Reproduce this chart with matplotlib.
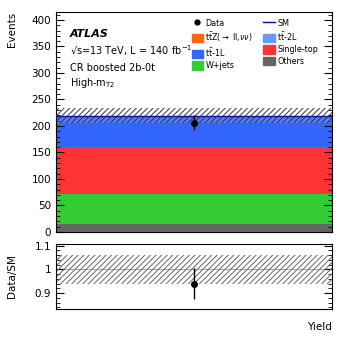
import matplotlib
matplotlib.use("Agg")
import matplotlib.pyplot as plt
import numpy as np
from matplotlib.patches import Patch
from matplotlib.lines import Line2D
from matplotlib.ticker import MultipleLocator, FixedLocator

plt.rcParams['font.family'] = ['DejaVu Sans']
plt.rcParams['hatch.linewidth'] = 0.7

# ---- data ----
bin_edges = [0.0, 1.0]
bin_center = 0.5
processes = ["Others", "W+jets", "Single-top", "ttZ", "tt2L", "tt1L"]
proc_values = [16.0, 55.5, 89.3, 0.1, 0.1, 58.5]
proc_colors = ["#666666", "#33cc33", "#ff3333", "#ff6600", "#6699ff", "#3366ff"]
sm_unc = 13.5
data_value = 206.0
data_err = np.sqrt(data_value)

fig = plt.figure(figsize=(3.49, 3.40), dpi=100)
W, H = 349, 340
ax = fig.add_axes([56/W, 1-232/H, (332-56)/W, (232-12)/H])
rax = fig.add_axes([56/W, 1-309/H, (332-56)/W, (309-244)/H])

# stack
bottom = 0.0
for name, v, c in zip(processes, proc_values, proc_colors):
    ax.bar(bin_center, v, width=1.0, bottom=bottom, color=c, linewidth=0)
    bottom += v
sm_total = bottom
ax.hlines(sm_total, 0, 1, color="#0000cc", lw=1.0, zorder=3)
ax.fill_between(bin_edges, sm_total - sm_unc, sm_total, facecolor="#88aaff", alpha=0.35,
                linewidth=0, zorder=2.5)
ax.fill_between(bin_edges, sm_total - sm_unc, sm_total + sm_unc, facecolor="none",
                edgecolor="#333333", hatch="//////", linewidth=0, zorder=3)
ax.errorbar([bin_center], [data_value], yerr=[data_err], fmt="o", color="black",
            ms=4, lw=1.0, capsize=0, zorder=5)

ax.set_xlim(0, 1)
ax.set_ylim(0, 415)
ax.yaxis.set_major_locator(MultipleLocator(50))
ax.yaxis.set_minor_locator(MultipleLocator(10))
ax.tick_params(axis="y", which="both", direction="in", left=True, right=True, labelsize=7.5)
ax.tick_params(axis="y", which="major", length=6)
ax.tick_params(axis="y", which="minor", length=3)
ax.set_xticks([])
ax.set_ylabel("Events", fontsize=7.5, loc="top")
ax.yaxis.set_label_coords(-0.14, 1.0)

# texts
ax.text(0.05, 0.90, "ATLAS", transform=ax.transAxes, fontsize=8, fontweight="bold",
        fontstyle="italic", va="center")
ax.text(0.05, 0.826, "\u221as=13 TeV, L = 140 fb$^{-1}$", transform=ax.transAxes,
        fontsize=7, va="center")
ax.text(0.05, 0.745, "CR boosted 2b-0t", transform=ax.transAxes, fontsize=7, va="center")
ax.text(0.05, 0.677, r"High-m$_{\mathrm{T2}}$", transform=ax.transAxes, fontsize=7, va="center")

# legend
handles = [
    Line2D([], [], marker="o", color="black", ls="none", ms=3.5),
    Patch(color="#ff6600"), Patch(color="#3366ff"), Patch(color="#33cc33"),
    Line2D([], [], color="#0000cc", lw=1.0),
    Patch(color="#6699ff"), Patch(color="#ff3333"), Patch(color="#666666"),
]
labels = ["Data", r"t$\bar{\mathrm{t}}$Z($\rightarrow$ ll,$\nu\nu$)", r"t$\bar{\mathrm{t}}$-1L", "W+jets",
          "SM", r"t$\bar{\mathrm{t}}$-2L", "Single-top", "Others"]
leg = ax.legend(handles, labels, ncol=2, loc="upper left", bbox_to_anchor=(0.48, 0.985),
                frameon=False, fontsize=5.8, handlelength=1.4, handleheight=1.2,
                handletextpad=0.3, columnspacing=1.3, labelspacing=0.3, borderaxespad=0)

# ratio
ratio = data_value / sm_total
ratio_err = data_err / sm_total
rel_unc = sm_unc / sm_total
rax.fill_between(bin_edges, 1 - rel_unc, 1 + rel_unc, facecolor="none",
                 edgecolor="#666666", hatch="//////", linewidth=0, zorder=2)
rax.axhline(1.0, color="#aaaaaa", lw=0.8, zorder=1)
rax.errorbar([bin_center], [ratio], yerr=[ratio_err], fmt="o", color="black",
             ms=4, lw=1.0, capsize=0, zorder=5)
rax.set_xlim(0, 1)
rax.set_ylim(0.833, 1.107)
rax.yaxis.set_major_locator(FixedLocator([0.9, 1.0, 1.1]))
rax.yaxis.set_minor_locator(MultipleLocator(0.02))
rax.set_yticklabels(["0.9", "1", "1.1"])
rax.tick_params(axis="y", which="both", direction="in", left=True, right=True, labelsize=7.5)
rax.tick_params(axis="y", which="major", length=6)
rax.tick_params(axis="y", which="minor", length=3)
rax.set_xticks([])
rax.set_ylabel("Data/SM", fontsize=7.5)
rax.yaxis.set_label_coords(-0.14, 0.5)
fig.text(332/W, 1-327/H, "Yield", ha="right", va="center", fontsize=7.5)

fig.savefig("out.png", dpi=100)
